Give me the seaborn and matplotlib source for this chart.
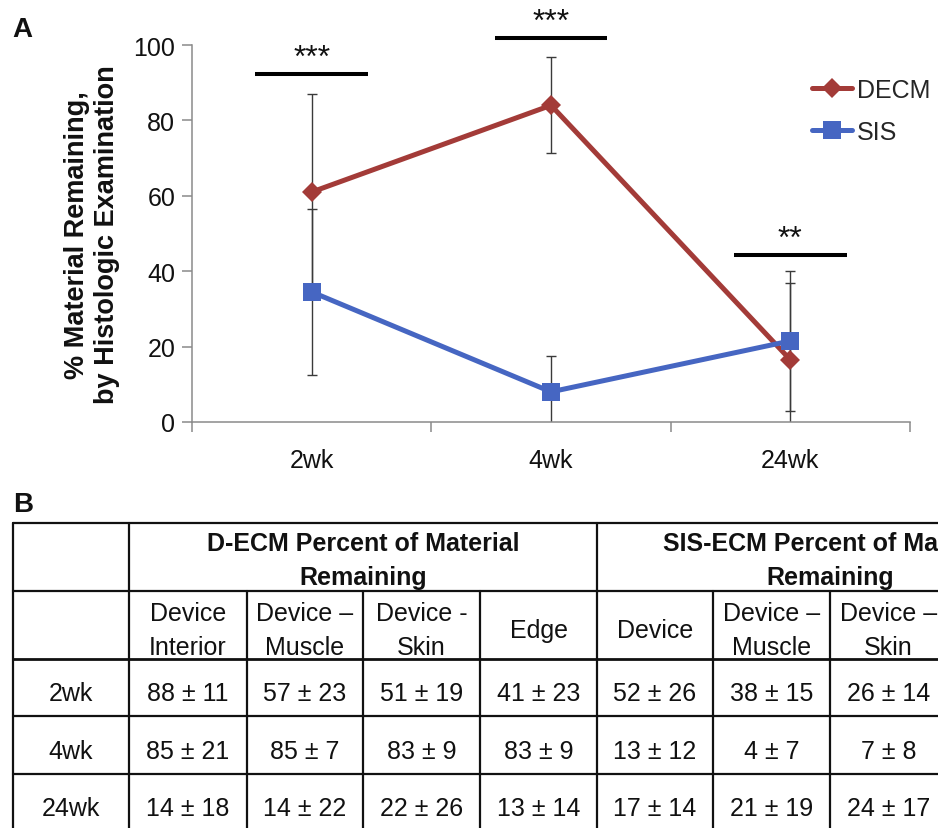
import numpy as np
import pandas as pd
import matplotlib
matplotlib.use("Agg")
import matplotlib.pyplot as plt
from matplotlib.lines import Line2D
from matplotlib.ticker import FixedLocator
import seaborn as sns

# ---- Panel A: material remaining by histology ----
timepoints = ["2wk", "4wk", "24wk"]
decm_mean = [61.0, 84.0, 16.5]
decm_err = [26.0, 12.7, 20.5]
sis_mean = [34.5, 8.0, 21.5]
sis_err = [22.0, 9.5, 18.5]
sig_labels = ["***", "***", "**"]
sig_heights = [92.3, 101.9, 44.3]

# ---- Panel B: regional breakdown table ----
row_labels = ["2wk", "4wk", "24wk"]
decm_group = "D-ECM Percent of Material\nRemaining"
sis_group = "SIS-ECM Percent of Material\nRemaining"
decm_cols = ["Device\nInterior", "Device –\nMuscle", "Device -\nSkin", "Edge"]
sis_cols = ["Device", "Device –\nMuscle", "Device –\nSkin", "Edge"]
decm_tab_mean = [[88, 57, 51, 41], [85, 85, 83, 83], [14, 14, 22, 13]]
decm_tab_sd = [[11, 23, 19, 23], [21, 7, 9, 9], [18, 22, 26, 14]]
sis_tab_mean = [[52, 38, 26], [13, 4, 7], [17, 21, 24]]
sis_tab_sd = [[26, 15, 14], [12, 7, 8], [14, 19, 17]]

DECM_COLOR = "#A33B38"
SIS_COLOR = "#4666C2"
AXIS_GRAY = "#8a8a8a"
INK = "#111111"

sns.set_style("white")
plt.rcParams["font.family"] = ["Liberation Sans", "DejaVu Sans"]

W, H = 938, 829
fig = plt.figure(figsize=(W / 100, H / 100), dpi=100)


def fx(px):
    return px / W


def fy(py):
    return 1 - py / H


ax = fig.add_axes([fx(192), fy(423), fx(910) - fx(192), fy(46) - fy(423)])
pos = np.arange(len(timepoints))

long_df = pd.DataFrame({
    "pos": np.concatenate([pos, pos]),
    "value": decm_mean + sis_mean,
    "err": decm_err + sis_err,
    "material": ["DECM"] * len(pos) + ["SIS"] * len(pos),
})

styles = {
    "DECM": dict(color=DECM_COLOR, marker="D", ms=10.5),
    "SIS": dict(color=SIS_COLOR, marker="s", ms=13.5),
}

# error bars underneath the series lines
for name, sub in long_df.groupby("material"):
    ax.errorbar(sub["pos"], sub["value"], yerr=sub["err"], fmt="none",
                ecolor="#3a3a3a", elinewidth=1.0, capsize=3.5, capthick=1.0,
                zorder=1)

for name, sub in long_df.groupby("material"):
    st = styles[name]
    sns.lineplot(data=sub, x="pos", y="value", ax=ax, color=st["color"],
                 marker=st["marker"], markersize=st["ms"],
                 markeredgecolor=st["color"], markeredgewidth=0,
                 linewidth=3.6, label=name, zorder=3)

# significance bars with stars
for p, h, s in zip(pos, sig_heights, sig_labels):
    ax.plot([p - 0.235, p + 0.235], [h, h], color="black", lw=2.9,
            clip_on=False, solid_capstyle="butt", zorder=4)
    ax.annotate(s, (p, h), xytext=(0, 1.0), textcoords="offset points",
                ha="center", va="bottom", fontsize=23, color=INK,
                annotation_clip=False)

ax.set_xlim(-0.5, len(pos) - 0.5)
ax.set_ylim(0, 100)
ax.set_yticks([0, 20, 40, 60, 80, 100])
ax.set_xticks(pos)
ax.set_xticklabels(timepoints)
ax.xaxis.set_minor_locator(FixedLocator(np.arange(len(pos) + 1) - 0.5))
ax.tick_params(axis="x", which="major", bottom=True, length=0, pad=19,
               labelsize=18, labelcolor=INK)
ax.tick_params(axis="x", which="minor", bottom=True, length=7, width=1.1,
               color=AXIS_GRAY, direction="out")
ax.tick_params(axis="y", which="major", left=True, length=7, width=1.1,
               color=AXIS_GRAY, pad=5, labelsize=18, labelcolor=INK,
               direction="out")
for side in ["top", "right"]:
    ax.spines[side].set_visible(False)
for side in ["left", "bottom"]:
    ax.spines[side].set_color(AXIS_GRAY)
    ax.spines[side].set_linewidth(1.1)
ax.set_xlabel("")
ax.set_ylabel("")

ax.legend(loc="upper left", bbox_to_anchor=(fx(812), fy(79)),
          bbox_transform=fig.transFigure, frameon=False, fontsize=18,
          handlelength=1.6, handletextpad=0.2, labelspacing=0.7,
          borderpad=0, borderaxespad=0)

fig.text(fx(92), fy(235), "% Material Remaining,\nby Histologic Examination",
         rotation=90, ha="center", va="center", fontsize=19.5,
         fontweight="bold", linespacing=1.25, color=INK)

fig.text(fx(12), fy(37), "A", fontsize=20, fontweight="bold", va="baseline",
         color=INK)
fig.text(fx(13), fy(512), "B", fontsize=20, fontweight="bold", va="baseline",
         color=INK)

# ---- table grid ----
x_edges = [13, 129, 247, 363, 480, 597, 713, 830, 947, 1064]
y_edges = [524, 592, 660, 717, 775, 832]
LW = 1.6


def hline(y, x0, x1, lw=LW):
    fig.add_artist(Line2D([fx(x0), fx(x1)], [fy(y), fy(y)],
                          transform=fig.transFigure, color=INK, lw=lw))


def vline(x, y0, y1, lw=LW):
    fig.add_artist(Line2D([fx(x), fx(x)], [fy(y0), fy(y1)],
                          transform=fig.transFigure, color=INK, lw=lw))


for y in y_edges:
    hline(y, x_edges[0], x_edges[-1], lw=2.0 if y == y_edges[2] else LW)
for i, x in enumerate(x_edges):
    full = i in (0, 1, 5, 9)
    vline(x, y_edges[0] if full else y_edges[1], y_edges[-1])

TS = 18
LS = 1.48


def cell_text(xc, yc, s, bold=False):
    fig.text(fx(xc), fy(yc), s, ha="center", va="center", fontsize=TS,
             fontweight="bold" if bold else "normal", linespacing=LS,
             color=INK)


cell_text((x_edges[1] + x_edges[5]) / 2, 561, decm_group, bold=True)
cell_text((x_edges[5] + x_edges[9]) / 2, 561, sis_group, bold=True)

sub_headers = decm_cols + sis_cols
for j, lab in enumerate(sub_headers):
    cell_text((x_edges[j + 1] + x_edges[j + 2]) / 2, 631, lab)

row_centers = [(y_edges[k + 2] + y_edges[k + 3]) / 2 + 6 for k in range(len(row_labels))]
for r, lab in enumerate(row_labels):
    yc = row_centers[r]
    cell_text((x_edges[0] + x_edges[1]) / 2, yc, lab)
    for j in range(len(decm_tab_mean[r])):
        cell_text((x_edges[j + 1] + x_edges[j + 2]) / 2, yc,
                  f"{decm_tab_mean[r][j]} ± {decm_tab_sd[r][j]}")
    for j in range(len(sis_tab_mean[r])):
        c = j + len(decm_cols)
        cell_text((x_edges[c + 1] + x_edges[c + 2]) / 2, yc,
                  f"{sis_tab_mean[r][j]} ± {sis_tab_sd[r][j]}")

fig.savefig("out.png", dpi=100)
